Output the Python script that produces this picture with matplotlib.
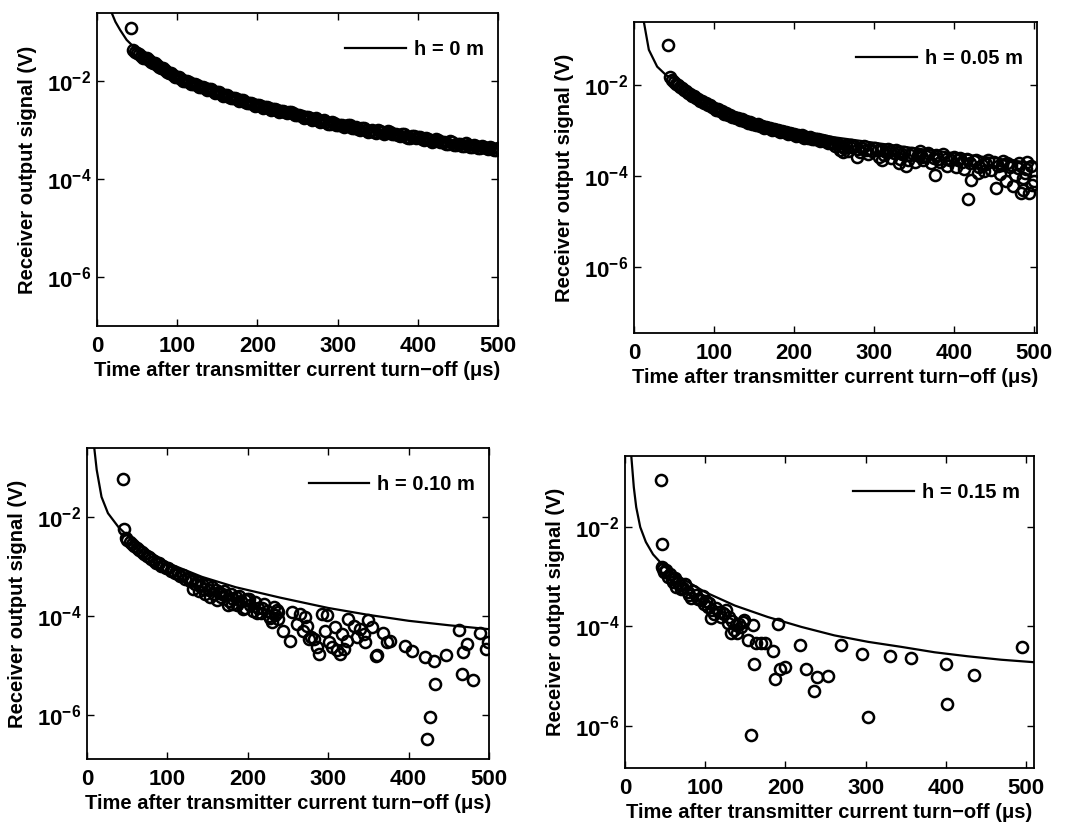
import numpy as np
import matplotlib
matplotlib.use("Agg")
import matplotlib.pyplot as plt
from matplotlib.ticker import FixedLocator, LogFormatterSciNotation, NullLocator, MultipleLocator

plt.rcParams['font.family'] = ['Liberation Sans', 'DejaVu Sans']
plt.rcParams['font.size'] = 14.5
plt.rcParams['font.weight'] = 'bold'
plt.rcParams['axes.labelweight'] = 'bold'

# ---------------- data (time in us, signal as log10 of volts) ----------------
# h = 0 m
line0_t = [14, 18.7, 23, 29, 37, 45.7, 50, 60, 75, 100, 125, 150, 200, 250, 300, 350, 400, 450, 500]
line0_e = [-0.35, -0.61, -0.78, -0.95, -1.15, -1.29, -1.38, -1.50, -1.66, -1.89, -2.06, -2.20, -2.46,
           -2.66, -2.86, -3.00, -3.13, -3.26, -3.36]
meas0_t = [42, 45, 50, 55, 60, 65, 70, 75, 80, 85, 90, 95, 100, 105, 110, 115, 120, 125, 130, 135, 140,
           145, 150, 155, 160, 165, 170, 175, 180, 185, 190, 195, 200, 205, 210, 215, 220, 225, 230, 235,
           240, 245, 250, 255, 260, 265, 270, 275, 280, 285, 290, 295, 300, 305, 310, 315, 320, 325, 330,
           335, 340, 345, 350, 355, 360, 365, 370, 375, 380, 385, 390, 395, 400, 405, 410, 415, 420, 425,
           430, 435, 440, 445, 450, 455, 460, 465, 470, 475, 480, 485, 490, 495, 500]
meas0_e = [-0.91, -1.36, -1.41, -1.47, -1.52, -1.57, -1.62, -1.67, -1.72, -1.77, -1.82, -1.86, -1.91,
           -1.94, -1.98, -2.01, -2.05, -2.08, -2.11, -2.13, -2.16, -2.19, -2.22, -2.25, -2.28, -2.31,
           -2.33, -2.36, -2.38, -2.41, -2.44, -2.46, -2.49, -2.50, -2.52, -2.55, -2.56, -2.58, -2.60,
           -2.62, -2.63, -2.65, -2.68, -2.70, -2.72, -2.74, -2.76, -2.78, -2.80, -2.82, -2.86, -2.85,
           -2.89, -2.90, -2.92, -2.90, -2.95, -2.97, -2.95, -2.99, -3.01, -3.03, -3.00, -3.04, -3.06,
           -3.03, -3.08, -3.10, -3.07, -3.13, -3.15, -3.11, -3.14, -3.18, -3.16, -3.20, -3.22, -3.19,
           -3.24, -3.27, -3.22, -3.29, -3.27, -3.31, -3.26, -3.33, -3.30, -3.35, -3.31, -3.37, -3.34,
           -3.40, -3.36]
# samples in between (dense band), (time, log10 V)
meas0_mid = [(47.5, -1.40), (52.5, -1.43), (57.5, -1.51), (62.5, -1.53), (67.5, -1.61), (72.5, -1.63),
             (77.5, -1.71), (82.5, -1.73), (87.5, -1.81), (92.5, -1.82), (97.5, -1.90), (102.5, -1.91),
             (107.5, -1.98), (112.5, -1.98), (117.5, -2.05), (122.5, -2.05), (127.5, -2.12), (132.5, -2.11),
             (137.5, -2.17), (142.5, -2.16), (147.5, -2.23), (152.5, -2.22), (157.5, -2.29), (162.5, -2.28),
             (167.5, -2.34), (172.5, -2.33), (177.5, -2.39), (182.5, -2.38), (187.5, -2.45), (192.5, -2.43),
             (197.5, -2.50), (202.5, -2.48), (207.5, -2.54), (212.5, -2.52), (217.5, -2.58), (222.5, -2.56),
             (227.5, -2.62), (232.5, -2.60), (237.5, -2.65), (242.5, -2.63), (247.5, -2.69), (252.5, -2.68),
             (257.5, -2.74), (262.5, -2.72), (267.5, -2.78), (272.5, -2.75), (277.5, -2.82), (282.5, -2.79),
             (287.5, -2.86), (292.5, -2.83), (297.5, -2.90), (302.5, -2.88), (307.5, -2.94), (312.5, -2.89),
             (317.5, -2.95), (322.5, -2.94), (327.5, -2.99), (332.5, -2.95), (337.5, -3.03), (342.5, -3.00),
             (347.5, -3.05), (352.5, -3.01), (357.5, -3.08), (362.5, -3.02), (367.5, -3.08), (372.5, -3.07),
             (377.5, -3.12), (382.5, -3.08), (387.5, -3.16), (392.5, -3.12), (397.5, -3.15), (402.5, -3.14),
             (407.5, -3.19), (412.5, -3.17), (417.5, -3.23), (422.5, -3.18), (427.5, -3.24), (432.5, -3.23),
             (437.5, -3.27), (442.5, -3.24), (447.5, -3.30), (452.5, -3.27), (457.5, -3.31), (462.5, -3.29),
             (467.5, -3.34), (472.5, -3.31), (477.5, -3.36), (482.5, -3.33), (487.5, -3.38), (492.5, -3.36),
             (497.5, -3.40)]

# h = 0.05 m
line1_t = [10, 12.4, 18.6, 29, 41, 50, 83, 124, 165, 207, 250, 300, 350, 400, 450, 500]
line1_e = [-0.30, -0.62, -1.23, -1.60, -1.80, -1.85, -2.24, -2.60, -2.82, -3.00, -3.15, -3.27, -3.39,
           -3.50, -3.61, -3.72]
meas1_t = [43, 45, 50, 55, 60, 65, 70, 75, 80, 85, 90, 95, 100, 105, 110, 115, 120, 125, 130, 135, 140,
           145, 150, 155, 160, 165, 170, 175, 180, 185, 190, 195, 200, 205, 210, 215, 220, 225, 230, 235,
           240, 245, 250, 255, 260, 265, 270, 275, 280, 285, 290, 295, 305, 310, 315, 320, 325, 330, 335,
           345, 355, 360, 365, 375, 380, 390, 395, 405, 410, 420, 425, 435, 440, 455, 460, 470, 480, 490,
           261, 279, 306, 310, 331, 340, 356, 376, 397, 418, 422, 430, 447, 453, 465, 467, 474, 484, 487,
           489, 492, 494, 498, 500]
meas1_e = [-1.12, -1.82, -1.93, -2.00, -2.07, -2.13, -2.19, -2.25, -2.30, -2.35, -2.40, -2.45, -2.50,
           -2.54, -2.58, -2.62, -2.66, -2.70, -2.73, -2.76, -2.79, -2.82, -2.85, -2.87, -2.90, -2.92,
           -2.95, -2.97, -2.99, -3.01, -3.04, -3.05, -3.08, -3.10, -3.11, -3.14, -3.15, -3.18, -3.19,
           -3.22, -3.23, -3.26, -3.27, -3.30, -3.34, -3.31, -3.37, -3.35, -3.40, -3.38, -3.42, -3.40,
           -3.44, -3.42, -3.47, -3.45, -3.50, -3.47, -3.52, -3.55, -3.53, -3.58, -3.56, -3.60, -3.62,
           -3.63, -3.66, -3.65, -3.70, -3.72, -3.68, -3.75, -3.73, -3.78, -3.76, -3.80, -3.82, -3.85,
           -3.48, -3.58, -3.58, -3.65, -3.72, -3.79, -3.56, -3.98, -3.65, -4.51, -4.09, -3.94, -3.87,
           -4.27, -4.12, -3.72, -4.23, -4.38, -4.30, -3.94, -3.69, -4.38, -4.20, -4.12]
meas1_mid = [(47.5, -1.90), (52.5, -1.99), (57.5, -2.05), (62.5, -2.12), (67.5, -2.18), (72.5, -2.24),
             (77.5, -2.29), (82.5, -2.35), (87.5, -2.39), (92.5, -2.45), (97.5, -2.49), (102.5, -2.55),
             (107.5, -2.58), (112.5, -2.63), (117.5, -2.66), (122.5, -2.71), (127.5, -2.73), (132.5, -2.78),
             (137.5, -2.79), (142.5, -2.84), (147.5, -2.85), (152.5, -2.89), (157.5, -2.90), (162.5, -2.94),
             (167.5, -2.95), (172.5, -2.99), (177.5, -3.00), (182.5, -3.03), (187.5, -3.04), (192.5, -3.08),
             (197.5, -3.08), (202.5, -3.12), (207.5, -3.12), (212.5, -3.16), (217.5, -3.16), (222.5, -3.20),
             (227.5, -3.20), (232.5, -3.24), (237.5, -3.24), (242.5, -3.28), (247.5, -3.28),
             (252, -3.35), (258, -3.42), (263, -3.38), (268, -3.45), (272, -3.32), (283, -3.48),
             (288, -3.35), (293, -3.52), (298, -3.45), (302, -3.38), (313, -3.55), (318, -3.40),
             (322, -3.60), (328, -3.42), (333, -3.62), (338, -3.48), (343, -3.66), (348, -3.50),
             (352, -3.70), (358, -3.45), (362, -3.64), (368, -3.50), (372, -3.72), (378, -3.55),
             (383, -3.70), (387, -3.52), (392, -3.78), (400, -3.58), (403, -3.80), (408, -3.60),
             (413, -3.85), (416, -3.62), (428, -3.65), (432, -3.80), (438, -3.90), (443, -3.65),
             (450, -3.70), (458, -3.95), (462, -3.68), (472, -3.75), (477, -3.98), (482, -3.72),
             (486, -4.05), (496, -3.78)]

# h = 0.10 m
line2_t = [7, 9, 12, 18, 26, 39, 60, 102, 143, 185, 240, 300, 350, 400, 450, 500]
line2_e = [0.0, -0.60, -1.04, -1.59, -1.92, -2.20, -2.53, -2.94, -3.21, -3.42, -3.63, -3.84, -3.98,
           -4.10, -4.19, -4.27]
meas2_t = [45, 46, 48, 50, 53, 56, 59, 62, 65, 68, 71, 74, 77, 80, 83, 86, 89, 92, 95, 98, 101, 104,
           107, 110, 113, 116, 119, 122, 125, 128, 131, 134, 137, 140, 143, 146, 149, 152, 155, 158, 161,
           164, 167, 170, 173, 176, 179, 182, 186, 189, 192, 196, 199, 203, 206, 209, 213, 216, 220, 224,
           228, 232, 234, 236, 238, 244, 253, 255, 261, 265, 269, 271, 274, 276, 278, 282, 286, 288, 292,
           296, 298, 301, 305, 309, 311, 315, 317, 319, 323, 325, 332, 336, 340, 344, 346, 350, 354, 360,
           361, 368, 373, 377, 396, 404, 420, 431, 433, 427, 423, 447, 463, 466, 468, 472, 480, 489, 496,
           499, 132, 139, 147, 153, 162, 168, 175, 180, 185, 194, 197, 202, 211, 218, 226, 230, 238]
meas2_e = [-1.22, -2.24, -2.42, -2.46, -2.50, -2.55, -2.58, -2.63, -2.66, -2.70, -2.74, -2.78, -2.80,
           -2.85, -2.88, -2.92, -2.93, -2.98, -2.99, -3.04, -3.04, -3.10, -3.09, -3.14, -3.15, -3.20,
           -3.18, -3.25, -3.23, -3.30, -3.27, -3.36, -3.32, -3.40, -3.36, -3.45, -3.38, -3.48, -3.42,
           -3.56, -3.47, -3.52, -3.62, -3.50, -3.58, -3.70, -3.55, -3.66, -3.78, -3.60, -3.70, -3.85,
           -3.66, -3.78, -3.90, -3.72, -3.84, -3.95, -3.76, -3.90, -4.05, -3.82, -3.98, -3.89, -4.06,
           -4.30, -4.50, -3.92, -4.16, -3.96, -4.30, -4.03, -4.20, -4.47, -4.43, -4.47, -4.64, -4.77,
           -3.96, -4.30, -3.99, -4.53, -4.64, -4.23, -4.70, -4.77, -4.36, -4.67, -4.50, -4.06, -4.20,
           -4.43, -4.26, -4.36, -4.53, -4.09, -4.23, -4.81, -4.80, -4.34, -4.53, -4.50, -4.61, -4.71,
           -4.83, -4.91, -5.39, -6.05, -6.49, -4.79, -4.28, -5.18, -4.74, -4.56, -5.30, -4.34, -4.68,
           -4.52, -3.45, -3.50, -3.55, -3.62, -3.68, -3.55, -3.78, -3.75, -3.62, -3.86, -3.68, -3.65,
           -3.95, -3.85, -4.00, -4.13, -3.93]

# h = 0.15 m
line3_t = [6, 8, 11, 14, 19, 26, 35, 48, 75, 100, 137, 178, 220, 261, 303, 344, 386, 427, 469, 510]
line3_e = [0.0, -0.60, -1.20, -1.60, -2.00, -2.30, -2.55, -2.78, -3.07, -3.31, -3.58, -3.81, -4.01,
           -4.18, -4.31, -4.41, -4.52, -4.60, -4.67, -4.72]
meas3_t = [45, 46, 46, 48, 49, 51, 53, 56, 58, 60, 62, 64, 66, 68, 70, 72, 75, 78, 80, 82, 85, 88, 91,
           95, 97, 99, 101, 103, 105, 107, 109, 111, 114, 117, 120, 122, 124, 126, 128, 130, 132, 134,
           136, 138, 140, 142, 145, 147, 149, 153, 157, 159, 161, 163, 169, 174, 184, 187, 191, 193, 200,
           218, 226, 236, 240, 253, 269, 296, 303, 330, 357, 400, 401, 435, 495]
meas3_e = [-1.05, -2.34, -2.80, -2.85, -2.90, -2.86, -3.00, -2.95, -3.05, -3.10, -3.03, -3.20, -3.12,
           -3.17, -3.25, -3.23, -3.15, -3.30, -3.36, -3.43, -3.28, -3.37, -3.45, -3.47, -3.38, -3.54,
           -3.48, -3.60, -3.52, -3.84, -3.66, -3.74, -3.62, -3.70, -3.80, -3.72, -3.74, -3.66, -3.94,
           -3.80, -4.14, -3.90, -4.07, -3.98, -4.14, -3.95, -4.01, -3.92, -3.87, -4.27, -6.19, -3.97,
           -4.75, -4.34, -4.34, -4.34, -4.50, -5.05, -3.95, -4.85, -4.82, -4.38, -4.85, -5.29, -5.02,
           -5.00, -4.38, -4.55, -5.82, -4.60, -4.63, -4.76, -5.57, -4.98, -4.41]

labels = ['h = 0 m', 'h = 0.05 m', 'h = 0.10 m', 'h = 0.15 m']

# ---------------- layout ----------------
fig = plt.figure(figsize=(10.68, 8.34), dpi=100)
boxes = [[0.0908, 0.6091, 0.3755, 0.3753],
         [0.5936, 0.6007, 0.3773, 0.3729],
         [0.0815, 0.0899, 0.3764, 0.3729],
         [0.5852, 0.0791, 0.3830, 0.3741]]
ylims = [(-7.0, -0.6), (-7.45, -0.62), (-6.9, -0.6), (-6.85, -0.57)]
xmax = [500, 504, 500, 510]

lines = [(line0_t, line0_e), (line1_t, line1_e), (line2_t, line2_e), (line3_t, line3_e)]
meas = [(meas0_t + [p[0] for p in meas0_mid], meas0_e + [p[1] for p in meas0_mid]),
        (meas1_t + [p[0] for p in meas1_mid], meas1_e + [p[1] for p in meas1_mid]),
        (meas2_t, meas2_e),
        (meas3_t, meas3_e)]

for i in range(4):
    ax = fig.add_axes(boxes[i])
    lt, le = lines[i]
    mt, me = meas[i]
    ax.plot(mt, 10.0 ** np.array(me), 'o', ms=8, mfc='none', mec='black', mew=1.8, zorder=2)
    ax.plot(lt, 10.0 ** np.array(le), '-', color='black', lw=1.6, label=labels[i], zorder=3)
    ax.set_yscale('log')
    ax.set_ylim(10 ** ylims[i][0], 10 ** ylims[i][1])
    ax.set_xlim(0, xmax[i])
    ax.xaxis.set_major_locator(MultipleLocator(100))
    ax.yaxis.set_major_locator(FixedLocator([1e-6, 1e-4, 1e-2]))
    ax.yaxis.set_major_formatter(LogFormatterSciNotation())
    ax.yaxis.set_minor_locator(NullLocator())
    ax.tick_params(direction='in', top=True, right=True, length=5, width=1.0, labelsize=16)
    ax.tick_params(axis='x', pad=7)
    ax.tick_params(axis='y', pad=4)
    for s in ax.spines.values():
        s.set_linewidth(1.3)
    ax.set_xlabel('Time after transmitter current turn\u2212off (\u03bcs)', labelpad=3)
    ax.set_ylabel('Receiver output signal (V)', labelpad=7)
    ax.legend(loc='upper right', bbox_to_anchor=(1.0, 0.958), frameon=False, handlelength=3.0,
              handletextpad=0.4, borderaxespad=0.3)

fig.savefig('out.png', dpi=100, facecolor='white')
